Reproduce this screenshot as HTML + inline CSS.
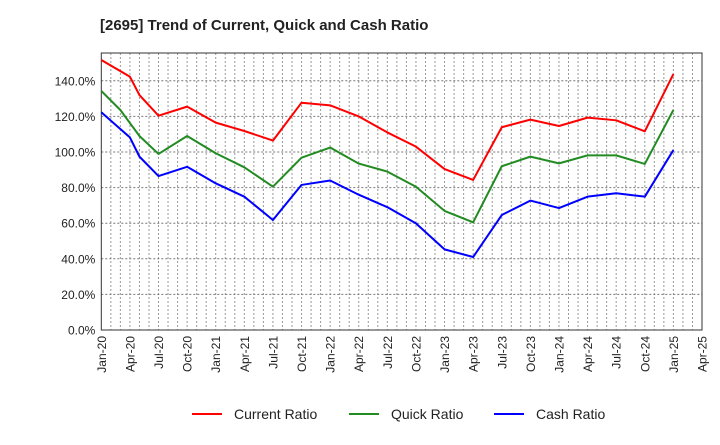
<!DOCTYPE html>
<html><head><meta charset="utf-8"><style>
body{margin:0;background:#fff;font-family:"Liberation Sans",sans-serif}
svg text{font-family:"Liberation Sans",sans-serif}
</style></head><body>
<svg id="chart" width="720" height="440" xmlns="http://www.w3.org/2000/svg">
<text x="100" y="30" font-size="15" font-weight="bold" fill="#222">[2695]  Trend of Current, Quick and Cash Ratio</text>
<g id="grid"></g><g id="axes"></g><g id="series"></g>
<g>
<line x1="192" y1="414" x2="222" y2="414" stroke="#f00" stroke-width="2"/><text x="234" y="419" font-size="14" fill="#222">Current Ratio</text>
<line x1="349" y1="414" x2="379" y2="414" stroke="#228B22" stroke-width="2"/><text x="391" y="419" font-size="14" fill="#222">Quick Ratio</text>
<line x1="494" y1="414" x2="524" y2="414" stroke="#00f" stroke-width="2"/><text x="536" y="419" font-size="14" fill="#222">Cash Ratio</text>
</g>
</svg>
<script>
const xLabels=["Jan-20","Apr-20","Jul-20","Oct-20","Jan-21","Apr-21","Jul-21","Oct-21","Jan-22","Apr-22","Jul-22","Oct-22","Jan-23","Apr-23","Jul-23","Oct-23","Jan-24","Apr-24","Jul-24","Oct-24","Jan-25","Apr-25"];
const yTicks=[0,20,40,60,80,100,120,140];
const currentMonths=[0,3,4,6,9,12,15,18,21,24,27,30,33,36,39,42,45,48,51,54,57,60];
const currentValues=[151.7,142.3,132,120.4,125.5,116.5,111.8,106.4,127.7,126.2,120,111,103,90.4,84.3,113.9,118.2,114.6,119.3,117.8,111.6,143.8];
const quickMonths=[0,2,4,6,9,12,15,18,21,24,27,30,33,36,39,42,45,48,51,54,57,60];
const quickValues=[134.3,123.6,109,98.9,109,99.3,91.4,80.5,96.8,102.5,93.5,89,80.5,66.9,60.5,92,97.4,93.6,98.1,98.1,93.3,123.6];
const cashMonths=[0,3,4,6,9,12,15,18,21,24,27,30,33,36,39,42,45,48,51,54,57,60];
const cashValues=[122.3,108.2,97.4,86.5,91.7,82.4,74.9,61.8,81.5,84,76,69,59.9,45.3,41,64.6,72.7,68.5,74.9,76.8,74.9,101.1];
const X0=101.3,X1=702,Y0=330,YT=53,MAXM=63;
const xs=m=>X0+(X1-X0)*m/MAXM, ys=v=>Y0-v*1.78;
const NS="http://www.w3.org/2000/svg";
function mk(t,a,p){const e=document.createElementNS(NS,t);for(const k in a)e.setAttribute(k,a[k]);p.appendChild(e);return e;}
const grid=document.getElementById('grid'),axes=document.getElementById('axes'),ser=document.getElementById('series');
for(let m=1;m<MAXM;m++){const l=mk('line',{x1:xs(m),x2:xs(m),y1:YT,y2:Y0,stroke:'#999','stroke-width':1,'stroke-dasharray':'2,2'},grid);

}
yTicks.forEach(v=>{if(v>0){const l=mk('line',{x1:X0,x2:X1,y1:ys(v),y2:ys(v),stroke:'#777','stroke-width':1,'stroke-dasharray':'2,2'},grid);

}
const t=mk('text',{x:X0-6,y:ys(v)+4.5,'text-anchor':'end','font-size':12,fill:'#222'},axes);t.textContent=v.toFixed(1)+'%';

});
const box=mk('rect',{x:X0,y:YT,width:X1-X0,height:Y0-YT,fill:'none',stroke:'#333','stroke-width':1},axes);


xLabels.forEach((s,i)=>{const x=xs(i*3);const t=mk('text',{x:0,y:0,transform:`translate(${x+4.5},${Y0+6}) rotate(-90)`,'text-anchor':'end','font-size':12,fill:'#222'},axes);t.textContent=s;

});
function line(ms,vs,c,name){const p=mk('polyline',{points:ms.map((m,i)=>xs(m)+','+ys(vs[i])).join(' '),fill:'none',stroke:c,'stroke-width':2,'stroke-linejoin':'round'},ser);

}
line(currentMonths,currentValues,'#f00','current-ratio-line');
line(quickMonths,quickValues,'#228B22','quick-ratio-line');
line(cashMonths,cashValues,'#00f','cash-ratio-line');
</script>
</body></html>
